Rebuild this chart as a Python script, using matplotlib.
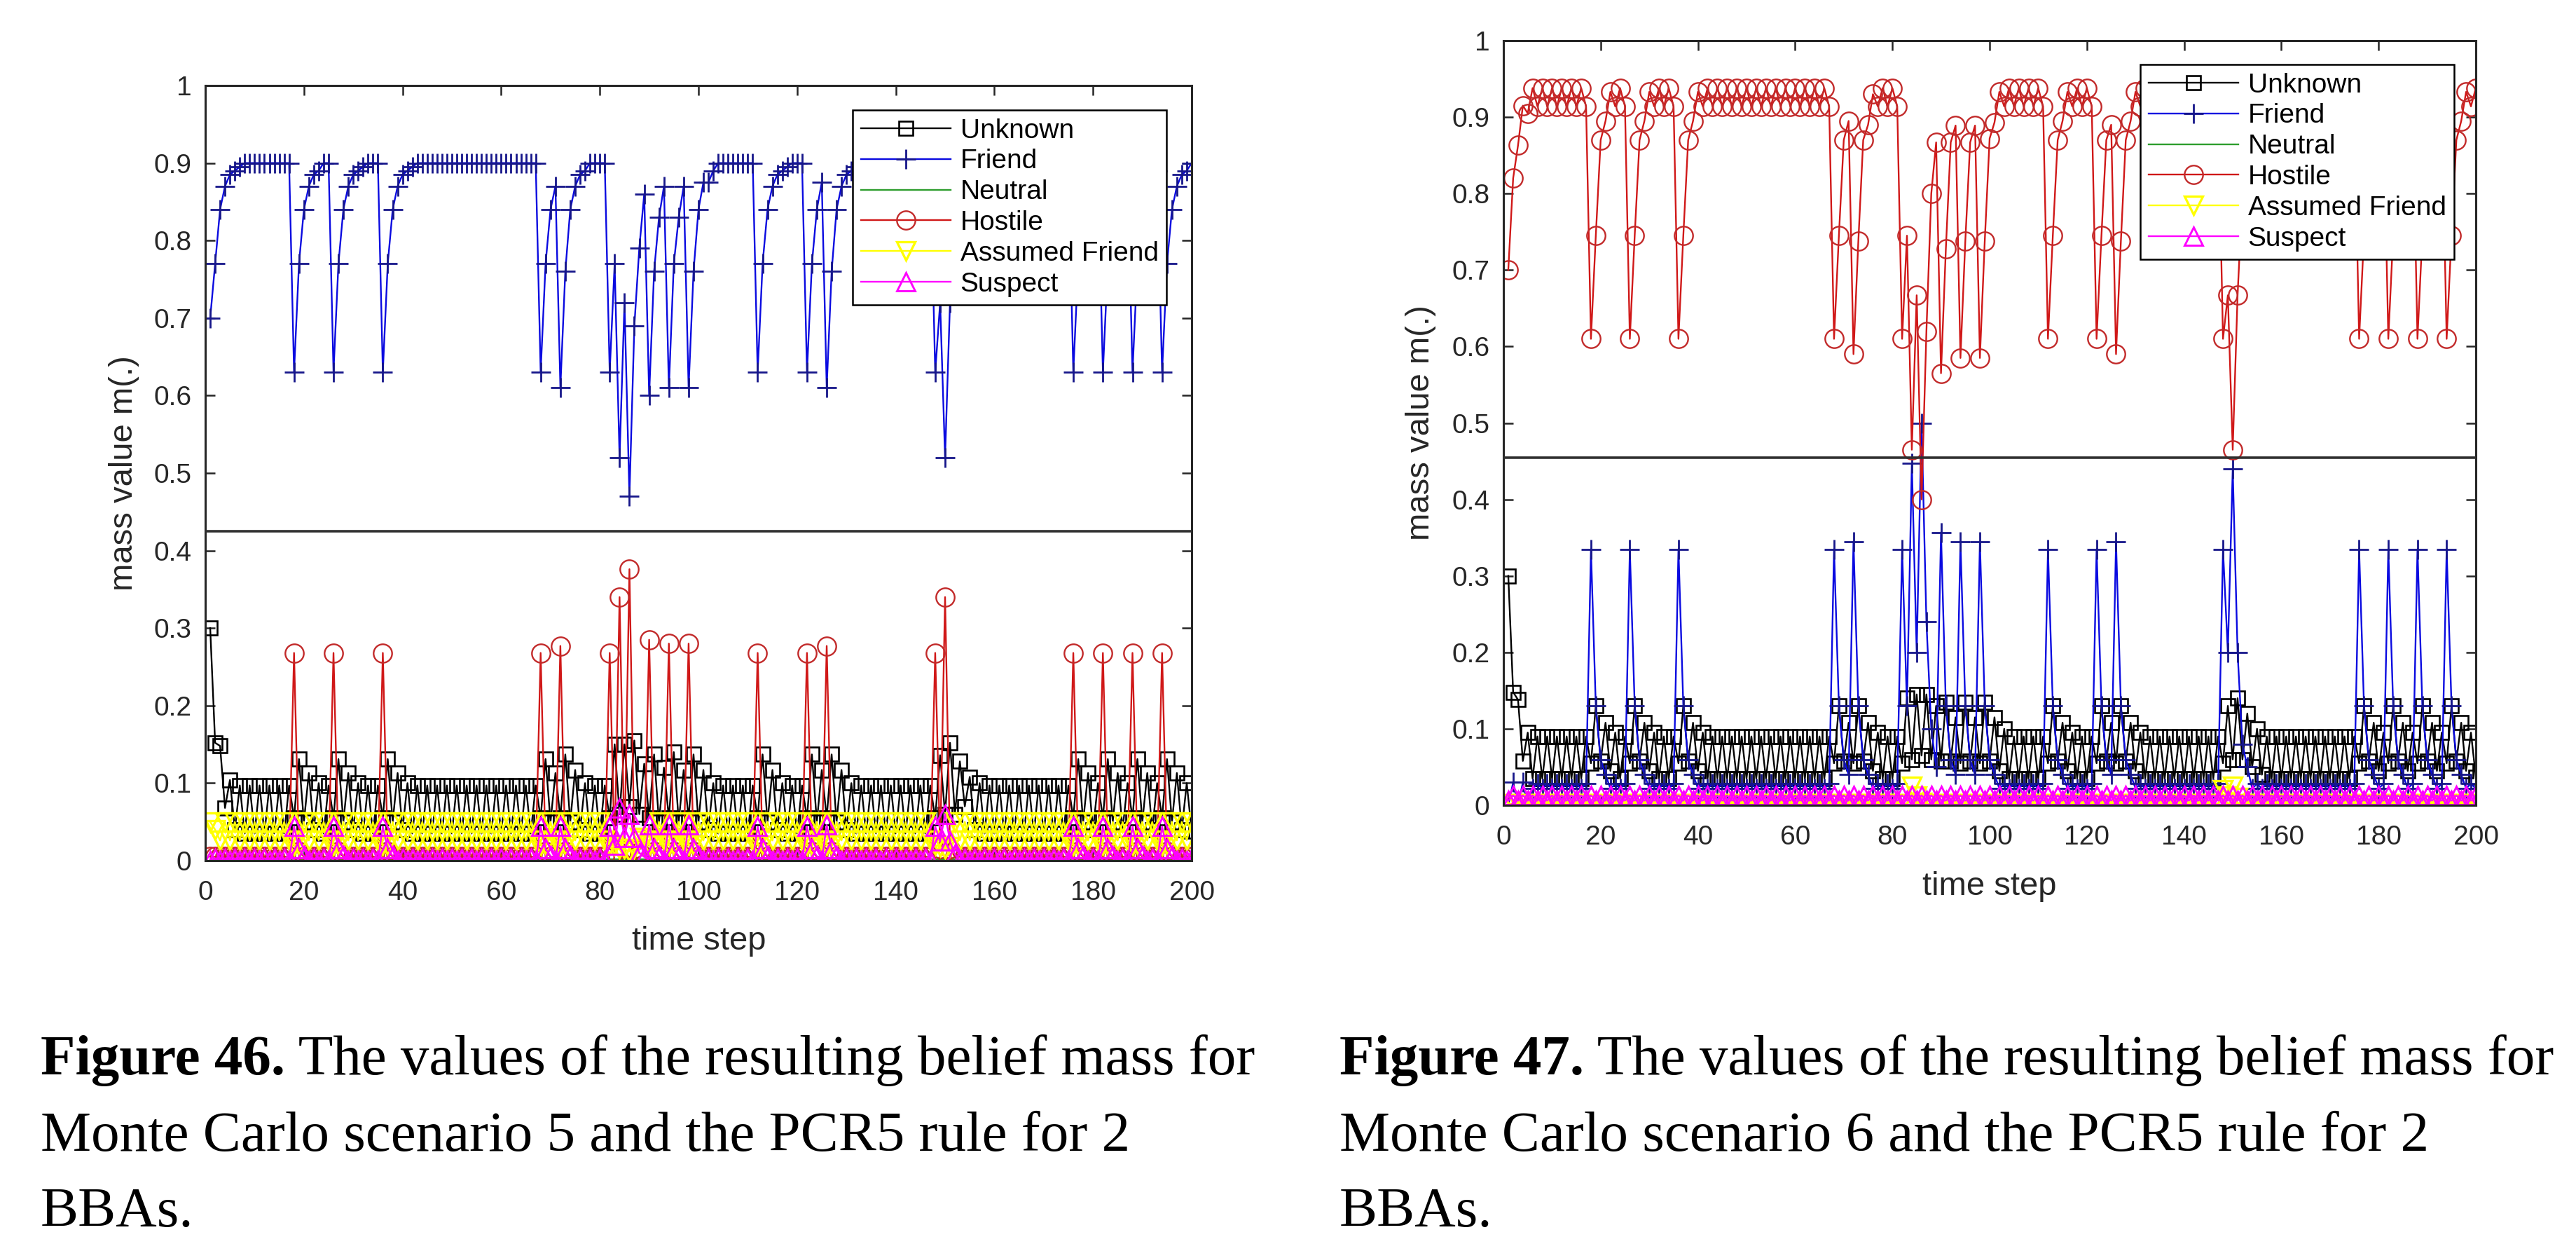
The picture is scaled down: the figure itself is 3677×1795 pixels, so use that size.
import matplotlib
matplotlib.use('Agg')
import matplotlib.pyplot as plt

plt.rcParams['font.family'] = ['Liberation Sans', 'DejaVu Sans']

W, H, DPI = 3677, 1795, 100

# ---------------- data ----------------
time_steps = list(range(1, 201))

x_ticks = [0, 20, 40, 60, 80, 100, 120, 140, 160, 180, 200]
y_ticks = [0, 0.1, 0.2, 0.3, 0.4, 0.5, 0.6, 0.7, 0.8, 0.9, 1.0]
y_tick_labels = ['0', '0.1', '0.2', '0.3', '0.4', '0.5', '0.6', '0.7', '0.8', '0.9', '1']

series_names = ['Unknown', 'Friend', 'Neutral', 'Hostile', 'Assumed Friend', 'Suspect']

# Figure 46 (scenario 5)
s5_unknown = [
    0.30, 0.152, 0.148, 0.068, 0.104, 0.04, 0.097, 0.035, 0.097, 0.035,
    0.097, 0.035, 0.097, 0.035, 0.097, 0.035, 0.097, 0.055, 0.131, 0.05,
    0.113, 0.04, 0.1, 0.035, 0.097, 0.055, 0.131, 0.05, 0.113, 0.04,
    0.1, 0.035, 0.097, 0.035, 0.097, 0.055, 0.131, 0.05, 0.113, 0.04,
    0.1, 0.035, 0.097, 0.035, 0.097, 0.035, 0.097, 0.035, 0.097, 0.035,
    0.097, 0.035, 0.097, 0.035, 0.097, 0.035, 0.097, 0.035, 0.097, 0.035,
    0.097, 0.035, 0.097, 0.035, 0.097, 0.035, 0.097, 0.055, 0.131, 0.05,
    0.113, 0.055, 0.137, 0.05, 0.117, 0.04, 0.1, 0.035, 0.097, 0.035,
    0.097, 0.055, 0.15, 0.06, 0.15, 0.07, 0.155, 0.06, 0.125, 0.055,
    0.137, 0.05, 0.12, 0.055, 0.14, 0.05, 0.117, 0.055, 0.137, 0.05,
    0.117, 0.04, 0.1, 0.035, 0.097, 0.035, 0.097, 0.035, 0.097, 0.035,
    0.097, 0.055, 0.137, 0.05, 0.117, 0.04, 0.1, 0.035, 0.097, 0.035,
    0.097, 0.055, 0.137, 0.05, 0.117, 0.055, 0.137, 0.05, 0.117, 0.04,
    0.1, 0.035, 0.097, 0.035, 0.097, 0.035, 0.097, 0.035, 0.097, 0.035,
    0.097, 0.035, 0.097, 0.035, 0.097, 0.035, 0.097, 0.055, 0.136, 0.06,
    0.152, 0.06, 0.128, 0.07, 0.108, 0.04, 0.1, 0.035, 0.097, 0.035,
    0.097, 0.035, 0.097, 0.035, 0.097, 0.035, 0.097, 0.035, 0.097, 0.035,
    0.097, 0.035, 0.097, 0.035, 0.097, 0.055, 0.131, 0.05, 0.113, 0.04,
    0.1, 0.055, 0.131, 0.05, 0.113, 0.04, 0.1, 0.055, 0.131, 0.05,
    0.113, 0.04, 0.1, 0.055, 0.131, 0.05, 0.113, 0.04, 0.1, 0.038,
]
s5_friend = [
    0.70, 0.77, 0.84, 0.87, 0.885, 0.89, 0.895, 0.9, 0.9, 0.9,
    0.9, 0.9, 0.9, 0.9, 0.9, 0.9, 0.9, 0.63, 0.77, 0.84,
    0.87, 0.885, 0.89, 0.9, 0.9, 0.63, 0.77, 0.84, 0.87, 0.885,
    0.89, 0.895, 0.9, 0.9, 0.9, 0.63, 0.77, 0.84, 0.87, 0.885,
    0.89, 0.895, 0.9, 0.9, 0.9, 0.9, 0.9, 0.9, 0.9, 0.9,
    0.9, 0.9, 0.9, 0.9, 0.9, 0.9, 0.9, 0.9, 0.9, 0.9,
    0.9, 0.9, 0.9, 0.9, 0.9, 0.9, 0.9, 0.63, 0.77, 0.84,
    0.87, 0.61, 0.76, 0.84, 0.87, 0.885, 0.89, 0.9, 0.9, 0.9,
    0.9, 0.63, 0.77, 0.52, 0.72, 0.47, 0.69, 0.79, 0.86, 0.60,
    0.76, 0.83, 0.87, 0.61, 0.77, 0.83, 0.87, 0.61, 0.76, 0.84,
    0.875, 0.875, 0.89, 0.9, 0.9, 0.9, 0.9, 0.9, 0.9, 0.9,
    0.9, 0.63, 0.77, 0.84, 0.87, 0.885, 0.89, 0.895, 0.9, 0.9,
    0.9, 0.63, 0.77, 0.84, 0.875, 0.61, 0.76, 0.84, 0.87, 0.885,
    0.89, 0.895, 0.9, 0.9, 0.9, 0.9, 0.9, 0.9, 0.9, 0.9,
    0.9, 0.9, 0.9, 0.9, 0.9, 0.9, 0.9, 0.63, 0.72, 0.52,
    0.72, 0.82, 0.86, 0.88, 0.89, 0.9, 0.9, 0.9, 0.9, 0.9,
    0.9, 0.9, 0.9, 0.9, 0.9, 0.9, 0.9, 0.9, 0.9, 0.9,
    0.9, 0.9, 0.9, 0.9, 0.9, 0.63, 0.77, 0.84, 0.87, 0.885,
    0.89, 0.63, 0.77, 0.84, 0.87, 0.885, 0.89, 0.63, 0.77, 0.84,
    0.87, 0.885, 0.89, 0.63, 0.77, 0.84, 0.87, 0.885, 0.89, 0.9,
]
s5_neutral = [
    0.002, 0.002, 0.002, 0.002, 0.002, 0.002, 0.002, 0.002, 0.002, 0.002,
    0.002, 0.002, 0.002, 0.002, 0.002, 0.002, 0.002, 0.002, 0.002, 0.002,
    0.002, 0.002, 0.002, 0.002, 0.002, 0.002, 0.002, 0.002, 0.002, 0.002,
    0.002, 0.002, 0.002, 0.002, 0.002, 0.002, 0.002, 0.002, 0.002, 0.002,
    0.002, 0.002, 0.002, 0.002, 0.002, 0.002, 0.002, 0.002, 0.002, 0.002,
    0.002, 0.002, 0.002, 0.002, 0.002, 0.002, 0.002, 0.002, 0.002, 0.002,
    0.002, 0.002, 0.002, 0.002, 0.002, 0.002, 0.002, 0.002, 0.002, 0.002,
    0.002, 0.002, 0.002, 0.002, 0.002, 0.002, 0.002, 0.002, 0.002, 0.002,
    0.002, 0.002, 0.002, 0.002, 0.002, 0.002, 0.002, 0.002, 0.002, 0.002,
    0.002, 0.002, 0.002, 0.002, 0.002, 0.002, 0.002, 0.002, 0.002, 0.002,
    0.002, 0.002, 0.002, 0.002, 0.002, 0.002, 0.002, 0.002, 0.002, 0.002,
    0.002, 0.002, 0.002, 0.002, 0.002, 0.002, 0.002, 0.002, 0.002, 0.002,
    0.002, 0.002, 0.002, 0.002, 0.002, 0.002, 0.002, 0.002, 0.002, 0.002,
    0.002, 0.002, 0.002, 0.002, 0.002, 0.002, 0.002, 0.002, 0.002, 0.002,
    0.002, 0.002, 0.002, 0.002, 0.002, 0.002, 0.002, 0.002, 0.002, 0.002,
    0.002, 0.002, 0.002, 0.002, 0.002, 0.002, 0.002, 0.002, 0.002, 0.002,
    0.002, 0.002, 0.002, 0.002, 0.002, 0.002, 0.002, 0.002, 0.002, 0.002,
    0.002, 0.002, 0.002, 0.002, 0.002, 0.002, 0.002, 0.002, 0.002, 0.002,
    0.002, 0.002, 0.002, 0.002, 0.002, 0.002, 0.002, 0.002, 0.002, 0.002,
    0.002, 0.002, 0.002, 0.002, 0.002, 0.002, 0.002, 0.002, 0.002, 0.002,
]
s5_hostile = [
    0.005, 0.005, 0.005, 0.005, 0.005, 0.005, 0.005, 0.005, 0.005, 0.005,
    0.005, 0.005, 0.005, 0.005, 0.005, 0.005, 0.005, 0.268, 0.012, 0.005,
    0.005, 0.005, 0.005, 0.005, 0.005, 0.268, 0.012, 0.005, 0.005, 0.005,
    0.005, 0.005, 0.005, 0.005, 0.005, 0.268, 0.012, 0.005, 0.005, 0.005,
    0.005, 0.005, 0.005, 0.005, 0.005, 0.005, 0.005, 0.005, 0.005, 0.005,
    0.005, 0.005, 0.005, 0.005, 0.005, 0.005, 0.005, 0.005, 0.005, 0.005,
    0.005, 0.005, 0.005, 0.005, 0.005, 0.005, 0.005, 0.268, 0.012, 0.005,
    0.005, 0.277, 0.012, 0.005, 0.005, 0.005, 0.005, 0.005, 0.005, 0.005,
    0.005, 0.268, 0.012, 0.34, 0.015, 0.376, 0.015, 0.01, 0.005, 0.285,
    0.012, 0.005, 0.005, 0.28, 0.012, 0.005, 0.005, 0.28, 0.012, 0.005,
    0.005, 0.005, 0.005, 0.005, 0.005, 0.005, 0.005, 0.005, 0.005, 0.005,
    0.005, 0.268, 0.012, 0.005, 0.005, 0.005, 0.005, 0.005, 0.005, 0.005,
    0.005, 0.268, 0.012, 0.005, 0.005, 0.277, 0.012, 0.005, 0.005, 0.005,
    0.005, 0.005, 0.005, 0.005, 0.005, 0.005, 0.005, 0.005, 0.005, 0.005,
    0.005, 0.005, 0.005, 0.005, 0.005, 0.005, 0.005, 0.268, 0.015, 0.34,
    0.015, 0.005, 0.005, 0.005, 0.005, 0.005, 0.005, 0.005, 0.005, 0.005,
    0.005, 0.005, 0.005, 0.005, 0.005, 0.005, 0.005, 0.005, 0.005, 0.005,
    0.005, 0.005, 0.005, 0.005, 0.005, 0.268, 0.012, 0.005, 0.005, 0.005,
    0.005, 0.268, 0.012, 0.005, 0.005, 0.005, 0.005, 0.268, 0.012, 0.005,
    0.005, 0.005, 0.005, 0.268, 0.012, 0.005, 0.005, 0.005, 0.005, 0.005,
]
s5_assumed_friend = [
    0.05, 0.04, 0.026, 0.05, 0.026, 0.05, 0.026, 0.05, 0.026, 0.05,
    0.026, 0.05, 0.026, 0.05, 0.026, 0.05, 0.026, 0.02, 0.02, 0.05,
    0.026, 0.05, 0.026, 0.05, 0.026, 0.02, 0.02, 0.05, 0.026, 0.05,
    0.026, 0.05, 0.026, 0.05, 0.026, 0.02, 0.02, 0.05, 0.026, 0.05,
    0.026, 0.05, 0.026, 0.05, 0.026, 0.05, 0.026, 0.05, 0.026, 0.05,
    0.026, 0.05, 0.026, 0.05, 0.026, 0.05, 0.026, 0.05, 0.026, 0.05,
    0.026, 0.05, 0.026, 0.05, 0.026, 0.05, 0.026, 0.02, 0.02, 0.05,
    0.026, 0.02, 0.02, 0.05, 0.026, 0.05, 0.026, 0.05, 0.026, 0.05,
    0.026, 0.02, 0.02, 0.015, 0.015, 0.012, 0.015, 0.03, 0.026, 0.02,
    0.02, 0.05, 0.026, 0.02, 0.02, 0.05, 0.026, 0.02, 0.02, 0.05,
    0.026, 0.05, 0.026, 0.05, 0.026, 0.05, 0.026, 0.05, 0.026, 0.05,
    0.026, 0.02, 0.02, 0.05, 0.026, 0.05, 0.026, 0.05, 0.026, 0.05,
    0.026, 0.02, 0.02, 0.05, 0.026, 0.02, 0.02, 0.05, 0.026, 0.05,
    0.026, 0.05, 0.026, 0.05, 0.026, 0.05, 0.026, 0.05, 0.026, 0.05,
    0.026, 0.05, 0.026, 0.05, 0.026, 0.05, 0.026, 0.02, 0.018, 0.015,
    0.018, 0.05, 0.026, 0.05, 0.026, 0.05, 0.026, 0.05, 0.026, 0.05,
    0.026, 0.05, 0.026, 0.05, 0.026, 0.05, 0.026, 0.05, 0.026, 0.05,
    0.026, 0.05, 0.026, 0.05, 0.026, 0.02, 0.02, 0.05, 0.026, 0.05,
    0.026, 0.02, 0.02, 0.05, 0.026, 0.05, 0.026, 0.02, 0.02, 0.05,
    0.026, 0.05, 0.026, 0.02, 0.02, 0.05, 0.026, 0.05, 0.026, 0.05,
]
s5_suspect = [
    0.0, 0.003, 0.0, 0.003, 0.0, 0.003, 0.0, 0.003, 0.0, 0.003,
    0.0, 0.003, 0.0, 0.003, 0.0, 0.003, 0.0, 0.044, 0.015, 0.006,
    0.0, 0.003, 0.0, 0.003, 0.0, 0.044, 0.015, 0.006, 0.0, 0.003,
    0.0, 0.003, 0.0, 0.003, 0.0, 0.044, 0.015, 0.006, 0.0, 0.003,
    0.0, 0.003, 0.0, 0.003, 0.0, 0.003, 0.0, 0.003, 0.0, 0.003,
    0.0, 0.003, 0.0, 0.003, 0.0, 0.003, 0.0, 0.003, 0.0, 0.003,
    0.0, 0.003, 0.0, 0.003, 0.0, 0.003, 0.0, 0.044, 0.015, 0.006,
    0.0, 0.044, 0.015, 0.006, 0.0, 0.003, 0.0, 0.003, 0.0, 0.003,
    0.0, 0.044, 0.02, 0.068, 0.03, 0.06, 0.03, 0.01, 0.005, 0.046,
    0.015, 0.006, 0.0, 0.046, 0.015, 0.006, 0.0, 0.046, 0.015, 0.006,
    0.0, 0.003, 0.0, 0.003, 0.0, 0.003, 0.0, 0.003, 0.0, 0.003,
    0.0, 0.044, 0.015, 0.006, 0.0, 0.003, 0.0, 0.003, 0.0, 0.003,
    0.0, 0.044, 0.015, 0.006, 0.0, 0.046, 0.015, 0.006, 0.0, 0.003,
    0.0, 0.003, 0.0, 0.003, 0.0, 0.003, 0.0, 0.003, 0.0, 0.003,
    0.0, 0.003, 0.0, 0.003, 0.0, 0.003, 0.0, 0.044, 0.025, 0.06,
    0.025, 0.008, 0.0, 0.003, 0.0, 0.003, 0.0, 0.003, 0.0, 0.003,
    0.0, 0.003, 0.0, 0.003, 0.0, 0.003, 0.0, 0.003, 0.0, 0.003,
    0.0, 0.003, 0.0, 0.003, 0.0, 0.044, 0.015, 0.006, 0.0, 0.003,
    0.0, 0.044, 0.015, 0.006, 0.0, 0.003, 0.0, 0.044, 0.015, 0.006,
    0.0, 0.003, 0.0, 0.044, 0.015, 0.006, 0.0, 0.003, 0.0, 0.003,
]
s5_level = 0.425

# Figure 47 (scenario 6)
s6_unknown = [
    0.30, 0.148, 0.138, 0.058, 0.095, 0.035, 0.09, 0.035, 0.09, 0.035,
    0.09, 0.035, 0.09, 0.035, 0.09, 0.035, 0.09, 0.055, 0.13, 0.058,
    0.108, 0.045, 0.095, 0.035, 0.09, 0.055, 0.13, 0.058, 0.108, 0.045,
    0.095, 0.035, 0.09, 0.035, 0.09, 0.055, 0.13, 0.058, 0.108, 0.045,
    0.095, 0.035, 0.09, 0.035, 0.09, 0.035, 0.09, 0.035, 0.09, 0.035,
    0.09, 0.035, 0.09, 0.035, 0.09, 0.035, 0.09, 0.035, 0.09, 0.035,
    0.09, 0.035, 0.09, 0.035, 0.09, 0.035, 0.09, 0.055, 0.13, 0.058,
    0.108, 0.055, 0.13, 0.058, 0.108, 0.045, 0.095, 0.035, 0.09, 0.035,
    0.09, 0.055, 0.14, 0.06, 0.145, 0.065, 0.145, 0.06, 0.13, 0.058,
    0.135, 0.058, 0.115, 0.055, 0.135, 0.058, 0.115, 0.055, 0.135, 0.058,
    0.115, 0.045, 0.1, 0.035, 0.09, 0.035, 0.09, 0.035, 0.09, 0.035,
    0.09, 0.055, 0.13, 0.058, 0.108, 0.045, 0.095, 0.035, 0.09, 0.035,
    0.09, 0.055, 0.13, 0.058, 0.108, 0.055, 0.13, 0.058, 0.108, 0.045,
    0.095, 0.035, 0.09, 0.035, 0.09, 0.035, 0.09, 0.035, 0.09, 0.035,
    0.09, 0.035, 0.09, 0.035, 0.09, 0.035, 0.09, 0.055, 0.13, 0.06,
    0.14, 0.06, 0.12, 0.05, 0.1, 0.04, 0.09, 0.035, 0.09, 0.035,
    0.09, 0.035, 0.09, 0.035, 0.09, 0.035, 0.09, 0.035, 0.09, 0.035,
    0.09, 0.035, 0.09, 0.035, 0.09, 0.055, 0.13, 0.058, 0.108, 0.045,
    0.095, 0.055, 0.13, 0.058, 0.108, 0.045, 0.095, 0.055, 0.13, 0.058,
    0.108, 0.045, 0.095, 0.055, 0.13, 0.058, 0.108, 0.045, 0.095, 0.037,
]
s6_friend = [
    0.0, 0.03, 0.0, 0.03, 0.0, 0.022, 0.028, 0.022, 0.028, 0.022,
    0.028, 0.022, 0.028, 0.022, 0.028, 0.022, 0.028, 0.335, 0.13, 0.06,
    0.04, 0.022, 0.028, 0.022, 0.028, 0.335, 0.13, 0.06, 0.04, 0.022,
    0.028, 0.022, 0.028, 0.022, 0.028, 0.335, 0.13, 0.06, 0.04, 0.022,
    0.028, 0.022, 0.028, 0.022, 0.028, 0.022, 0.028, 0.022, 0.028, 0.022,
    0.028, 0.022, 0.028, 0.022, 0.028, 0.022, 0.028, 0.022, 0.028, 0.022,
    0.028, 0.022, 0.028, 0.022, 0.028, 0.022, 0.028, 0.335, 0.13, 0.06,
    0.04, 0.345, 0.13, 0.06, 0.04, 0.022, 0.028, 0.022, 0.028, 0.022,
    0.028, 0.335, 0.13, 0.447, 0.2, 0.50, 0.24, 0.1, 0.05, 0.357,
    0.13, 0.06, 0.04, 0.345, 0.13, 0.06, 0.04, 0.345, 0.13, 0.06,
    0.04, 0.022, 0.028, 0.022, 0.028, 0.022, 0.028, 0.022, 0.028, 0.022,
    0.028, 0.335, 0.13, 0.06, 0.04, 0.022, 0.028, 0.022, 0.028, 0.022,
    0.028, 0.335, 0.13, 0.06, 0.04, 0.345, 0.13, 0.06, 0.04, 0.022,
    0.028, 0.022, 0.028, 0.022, 0.028, 0.022, 0.028, 0.022, 0.028, 0.022,
    0.028, 0.022, 0.028, 0.022, 0.028, 0.022, 0.028, 0.335, 0.2, 0.44,
    0.2, 0.08, 0.05, 0.022, 0.028, 0.022, 0.028, 0.022, 0.028, 0.022,
    0.028, 0.022, 0.028, 0.022, 0.028, 0.022, 0.028, 0.022, 0.028, 0.022,
    0.028, 0.022, 0.028, 0.022, 0.028, 0.335, 0.13, 0.06, 0.04, 0.022,
    0.028, 0.335, 0.13, 0.06, 0.04, 0.022, 0.028, 0.335, 0.13, 0.06,
    0.04, 0.022, 0.028, 0.335, 0.13, 0.06, 0.04, 0.022, 0.028, 0.022,
]
s6_neutral = [
    0.001, 0.001, 0.001, 0.001, 0.001, 0.001, 0.001, 0.001, 0.001, 0.001,
    0.001, 0.001, 0.001, 0.001, 0.001, 0.001, 0.001, 0.001, 0.001, 0.001,
    0.001, 0.001, 0.001, 0.001, 0.001, 0.001, 0.001, 0.001, 0.001, 0.001,
    0.001, 0.001, 0.001, 0.001, 0.001, 0.001, 0.001, 0.001, 0.001, 0.001,
    0.001, 0.001, 0.001, 0.001, 0.001, 0.001, 0.001, 0.001, 0.001, 0.001,
    0.001, 0.001, 0.001, 0.001, 0.001, 0.001, 0.001, 0.001, 0.001, 0.001,
    0.001, 0.001, 0.001, 0.001, 0.001, 0.001, 0.001, 0.001, 0.001, 0.001,
    0.001, 0.001, 0.001, 0.001, 0.001, 0.001, 0.001, 0.001, 0.001, 0.001,
    0.001, 0.001, 0.001, 0.001, 0.001, 0.001, 0.001, 0.001, 0.001, 0.001,
    0.001, 0.001, 0.001, 0.001, 0.001, 0.001, 0.001, 0.001, 0.001, 0.001,
    0.001, 0.001, 0.001, 0.001, 0.001, 0.001, 0.001, 0.001, 0.001, 0.001,
    0.001, 0.001, 0.001, 0.001, 0.001, 0.001, 0.001, 0.001, 0.001, 0.001,
    0.001, 0.001, 0.001, 0.001, 0.001, 0.001, 0.001, 0.001, 0.001, 0.001,
    0.001, 0.001, 0.001, 0.001, 0.001, 0.001, 0.001, 0.001, 0.001, 0.001,
    0.001, 0.001, 0.001, 0.001, 0.001, 0.001, 0.001, 0.001, 0.001, 0.001,
    0.001, 0.001, 0.001, 0.001, 0.001, 0.001, 0.001, 0.001, 0.001, 0.001,
    0.001, 0.001, 0.001, 0.001, 0.001, 0.001, 0.001, 0.001, 0.001, 0.001,
    0.001, 0.001, 0.001, 0.001, 0.001, 0.001, 0.001, 0.001, 0.001, 0.001,
    0.001, 0.001, 0.001, 0.001, 0.001, 0.001, 0.001, 0.001, 0.001, 0.001,
    0.001, 0.001, 0.001, 0.001, 0.001, 0.001, 0.001, 0.001, 0.001, 0.001,
]
s6_hostile = [
    0.70, 0.82, 0.863, 0.915, 0.905, 0.938, 0.914, 0.938, 0.914, 0.938,
    0.914, 0.938, 0.914, 0.938, 0.914, 0.938, 0.914, 0.61, 0.745, 0.87,
    0.895, 0.933, 0.914, 0.938, 0.914, 0.61, 0.745, 0.87, 0.895, 0.933,
    0.914, 0.938, 0.914, 0.938, 0.914, 0.61, 0.745, 0.87, 0.895, 0.933,
    0.914, 0.938, 0.914, 0.938, 0.914, 0.938, 0.914, 0.938, 0.914, 0.938,
    0.914, 0.938, 0.914, 0.938, 0.914, 0.938, 0.914, 0.938, 0.914, 0.938,
    0.914, 0.938, 0.914, 0.938, 0.914, 0.938, 0.914, 0.61, 0.745, 0.87,
    0.895, 0.59, 0.738, 0.87, 0.89, 0.93, 0.914, 0.938, 0.914, 0.938,
    0.914, 0.61, 0.745, 0.465, 0.667, 0.40, 0.62, 0.80, 0.867, 0.565,
    0.728, 0.867, 0.889, 0.585, 0.738, 0.867, 0.889, 0.585, 0.738, 0.872,
    0.893, 0.933, 0.914, 0.938, 0.914, 0.938, 0.914, 0.938, 0.914, 0.938,
    0.914, 0.61, 0.745, 0.87, 0.895, 0.933, 0.914, 0.938, 0.914, 0.938,
    0.914, 0.61, 0.745, 0.87, 0.89, 0.59, 0.738, 0.87, 0.895, 0.933,
    0.914, 0.938, 0.914, 0.938, 0.914, 0.938, 0.914, 0.938, 0.914, 0.938,
    0.914, 0.938, 0.914, 0.938, 0.914, 0.938, 0.914, 0.61, 0.667, 0.465,
    0.667, 0.80, 0.87, 0.895, 0.933, 0.938, 0.914, 0.938, 0.914, 0.938,
    0.914, 0.938, 0.914, 0.938, 0.914, 0.938, 0.914, 0.938, 0.914, 0.938,
    0.914, 0.938, 0.914, 0.938, 0.914, 0.61, 0.745, 0.87, 0.895, 0.933,
    0.914, 0.61, 0.745, 0.87, 0.895, 0.933, 0.914, 0.61, 0.745, 0.87,
    0.895, 0.933, 0.914, 0.61, 0.745, 0.87, 0.895, 0.933, 0.914, 0.938,
]
s6_assumed_friend = [
    0.002, 0.002, 0.002, 0.002, 0.002, 0.002, 0.002, 0.002, 0.002, 0.002,
    0.002, 0.002, 0.002, 0.002, 0.002, 0.002, 0.002, 0.002, 0.002, 0.002,
    0.002, 0.002, 0.002, 0.002, 0.002, 0.002, 0.002, 0.002, 0.002, 0.002,
    0.002, 0.002, 0.002, 0.002, 0.002, 0.002, 0.002, 0.002, 0.002, 0.002,
    0.002, 0.002, 0.002, 0.002, 0.002, 0.002, 0.002, 0.002, 0.002, 0.002,
    0.002, 0.002, 0.002, 0.002, 0.002, 0.002, 0.002, 0.002, 0.002, 0.002,
    0.002, 0.002, 0.002, 0.002, 0.002, 0.002, 0.002, 0.002, 0.002, 0.002,
    0.002, 0.002, 0.002, 0.002, 0.002, 0.002, 0.002, 0.002, 0.002, 0.002,
    0.002, 0.002, 0.002, 0.025, 0.012, 0.004, 0.002, 0.002, 0.002, 0.002,
    0.002, 0.002, 0.002, 0.002, 0.002, 0.002, 0.002, 0.002, 0.002, 0.002,
    0.002, 0.002, 0.002, 0.002, 0.002, 0.002, 0.002, 0.002, 0.002, 0.002,
    0.002, 0.002, 0.002, 0.002, 0.002, 0.002, 0.002, 0.002, 0.002, 0.002,
    0.002, 0.002, 0.002, 0.002, 0.002, 0.002, 0.002, 0.002, 0.002, 0.002,
    0.002, 0.002, 0.002, 0.002, 0.002, 0.002, 0.002, 0.002, 0.002, 0.002,
    0.002, 0.002, 0.002, 0.002, 0.002, 0.002, 0.002, 0.02, 0.012, 0.025,
    0.01, 0.002, 0.002, 0.002, 0.002, 0.002, 0.002, 0.002, 0.002, 0.002,
    0.002, 0.002, 0.002, 0.002, 0.002, 0.002, 0.002, 0.002, 0.002, 0.002,
    0.002, 0.002, 0.002, 0.002, 0.002, 0.002, 0.002, 0.002, 0.002, 0.002,
    0.002, 0.002, 0.002, 0.002, 0.002, 0.002, 0.002, 0.002, 0.002, 0.002,
    0.002, 0.002, 0.002, 0.002, 0.002, 0.002, 0.002, 0.002, 0.002, 0.002,
]
s6_suspect = [
    0.006, 0.013, 0.006, 0.013, 0.006, 0.013, 0.006, 0.013, 0.006, 0.013,
    0.006, 0.013, 0.006, 0.013, 0.006, 0.013, 0.006, 0.013, 0.006, 0.013,
    0.006, 0.013, 0.006, 0.013, 0.006, 0.013, 0.006, 0.013, 0.006, 0.013,
    0.006, 0.013, 0.006, 0.013, 0.006, 0.013, 0.006, 0.013, 0.006, 0.013,
    0.006, 0.013, 0.006, 0.013, 0.006, 0.013, 0.006, 0.013, 0.006, 0.013,
    0.006, 0.013, 0.006, 0.013, 0.006, 0.013, 0.006, 0.013, 0.006, 0.013,
    0.006, 0.013, 0.006, 0.013, 0.006, 0.013, 0.006, 0.013, 0.006, 0.013,
    0.006, 0.013, 0.006, 0.013, 0.006, 0.013, 0.006, 0.013, 0.006, 0.013,
    0.006, 0.013, 0.006, 0.013, 0.006, 0.013, 0.006, 0.013, 0.006, 0.013,
    0.006, 0.013, 0.006, 0.013, 0.006, 0.013, 0.006, 0.013, 0.006, 0.013,
    0.006, 0.013, 0.006, 0.013, 0.006, 0.013, 0.006, 0.013, 0.006, 0.013,
    0.006, 0.013, 0.006, 0.013, 0.006, 0.013, 0.006, 0.013, 0.006, 0.013,
    0.006, 0.013, 0.006, 0.013, 0.006, 0.013, 0.006, 0.013, 0.006, 0.013,
    0.006, 0.013, 0.006, 0.013, 0.006, 0.013, 0.006, 0.013, 0.006, 0.013,
    0.006, 0.013, 0.006, 0.013, 0.006, 0.013, 0.006, 0.013, 0.006, 0.013,
    0.006, 0.013, 0.006, 0.013, 0.006, 0.013, 0.006, 0.013, 0.006, 0.013,
    0.006, 0.013, 0.006, 0.013, 0.006, 0.013, 0.006, 0.013, 0.006, 0.013,
    0.006, 0.013, 0.006, 0.013, 0.006, 0.013, 0.006, 0.013, 0.006, 0.013,
    0.006, 0.013, 0.006, 0.013, 0.006, 0.013, 0.006, 0.013, 0.006, 0.013,
    0.006, 0.013, 0.006, 0.013, 0.006, 0.013, 0.006, 0.013, 0.006, 0.013,
]
s6_level = 0.455

caption_46 = ['Figure 46.', ' The values of the resulting belief mass for',
              'Monte Carlo scenario 5 and the PCR5 rule for 2', 'BBAs.']
caption_47 = ['Figure 47.', ' The values of the resulting belief mass for',
              'Monte Carlo scenario 6 and the PCR5 rule for 2', 'BBAs.']

# ---------------- figure ----------------
fig = plt.figure(figsize=(W / DPI, H / DPI), dpi=DPI)
fig.patch.set_facecolor('white')


def axes_px(l, t, r, b):
    return fig.add_axes([l / W, 1 - b / H, (r - l) / W, (b - t) / H])


TXT = '#262626'
STYLES = [
    dict(color='black', marker='s', ms=14, mfc='none', mec='black', mew=1.9),
    dict(color='#0a0ae0', marker='+', ms=20, mec='#16168a', mew=2.0),
    dict(color='#2e9e2e'),
    dict(color='#d01818', marker='o', ms=19, mfc='none', mec='#c22a2a', mew=1.7),
    dict(color='#ffff00', marker='v', ms=19, mfc='none', mec='#ffff00', mew=2.4),
    dict(color='#ff00ff', marker='^', ms=19, mfc='none', mec='#ff00ff', mew=2.1),
]


def draw_panel(ax, data, level, legend_px):
    handles = []
    for name, vals, st in zip(series_names, data, STYLES):
        ln, = ax.plot(time_steps, vals, lw=1.7, label=name, **st)
        handles.append(ln)
    ax.axhline(level, color='#303030', lw=2.6, zorder=5)
    ax.set_xlim(0, 200)
    ax.set_ylim(0, 1)
    ax.set_xticks(x_ticks)
    ax.set_xticklabels([str(v) for v in x_ticks])
    ax.set_yticks(y_ticks)
    ax.set_yticklabels(y_tick_labels)
    ax.tick_params(direction='in', length=10, width=1.8, top=True, right=True,
                   labelsize=28, colors=TXT)
    ax.tick_params(axis='x', pad=20)
    ax.tick_params(axis='y', pad=14)
    for sp in ax.spines.values():
        sp.set_linewidth(2.2)
        sp.set_color(TXT)
    lx, ly = legend_px
    leg = ax.legend(handles=handles, loc='upper left',
                    bbox_to_anchor=(lx / W, 1 - ly / H), bbox_transform=fig.transFigure,
                    borderaxespad=0, fontsize=28, handlelength=3.3, handletextpad=0.35,
                    labelspacing=0.2, borderpad=0.3, frameon=True, fancybox=False,
                    edgecolor='black', framealpha=1, numpoints=1)
    leg.get_frame().set_linewidth(1.8)
    leg.set_zorder(10)


axL = axes_px(293, 122, 1701, 1228)
axR = axes_px(2146, 58, 3534, 1149)

draw_panel(axL, [s5_unknown, s5_friend, s5_neutral, s5_hostile, s5_assumed_friend, s5_suspect],
           s5_level, (1217, 157))
draw_panel(axR, [s6_unknown, s6_friend, s6_neutral, s6_hostile, s6_assumed_friend, s6_suspect],
           s6_level, (3055, 92))

# axis labels
fig.text(177 / W, 1 - 675 / H, 'mass value m(.)', rotation=90, ha='center', va='center',
         fontsize=34, color=TXT)
fig.text(2028 / W, 1 - 603 / H, 'mass value m(.)', rotation=90, ha='center', va='center',
         fontsize=34, color=TXT)
fig.text(998 / W, 1 - 1343 / H, 'time step', ha='center', va='center', fontsize=34, color=TXT)
fig.text(2840 / W, 1 - 1265 / H, 'time step', ha='center', va='center', fontsize=34, color=TXT)

# captions
renderer = fig.canvas.get_renderer()
SERIF = ['Liberation Serif', 'DejaVu Serif']


def text_width(s, fs, weight='normal'):
    t = fig.text(0, 0, s, fontsize=fs, fontweight=weight, family=SERIF)
    w = t.get_window_extent(renderer).width
    t.remove()
    return w


base_fs = 50
w0 = text_width(caption_46[0], base_fs, 'bold') + text_width(caption_46[1], base_fs)
cap_fs = base_fs * 1736 / w0

baselines = [1533, 1642, 1750]


def put_caption(x, cap):
    bold = fig.text(x / W, 1 - baselines[0] / H, cap[0], fontsize=cap_fs, fontweight='bold',
                    family=SERIF, va='baseline', ha='left', color='black')
    bw = bold.get_window_extent(renderer).width
    fig.text((x + bw) / W, 1 - baselines[0] / H, cap[1], fontsize=cap_fs, family=SERIF,
             va='baseline', ha='left', color='black')
    fig.text(x / W, 1 - baselines[1] / H, cap[2], fontsize=cap_fs, family=SERIF,
             va='baseline', ha='left', color='black')
    fig.text(x / W, 1 - baselines[2] / H, cap[3], fontsize=cap_fs, family=SERIF,
             va='baseline', ha='left', color='black')


put_caption(58, caption_46)
put_caption(1912, caption_47)

fig.savefig('out.png', dpi=DPI)
